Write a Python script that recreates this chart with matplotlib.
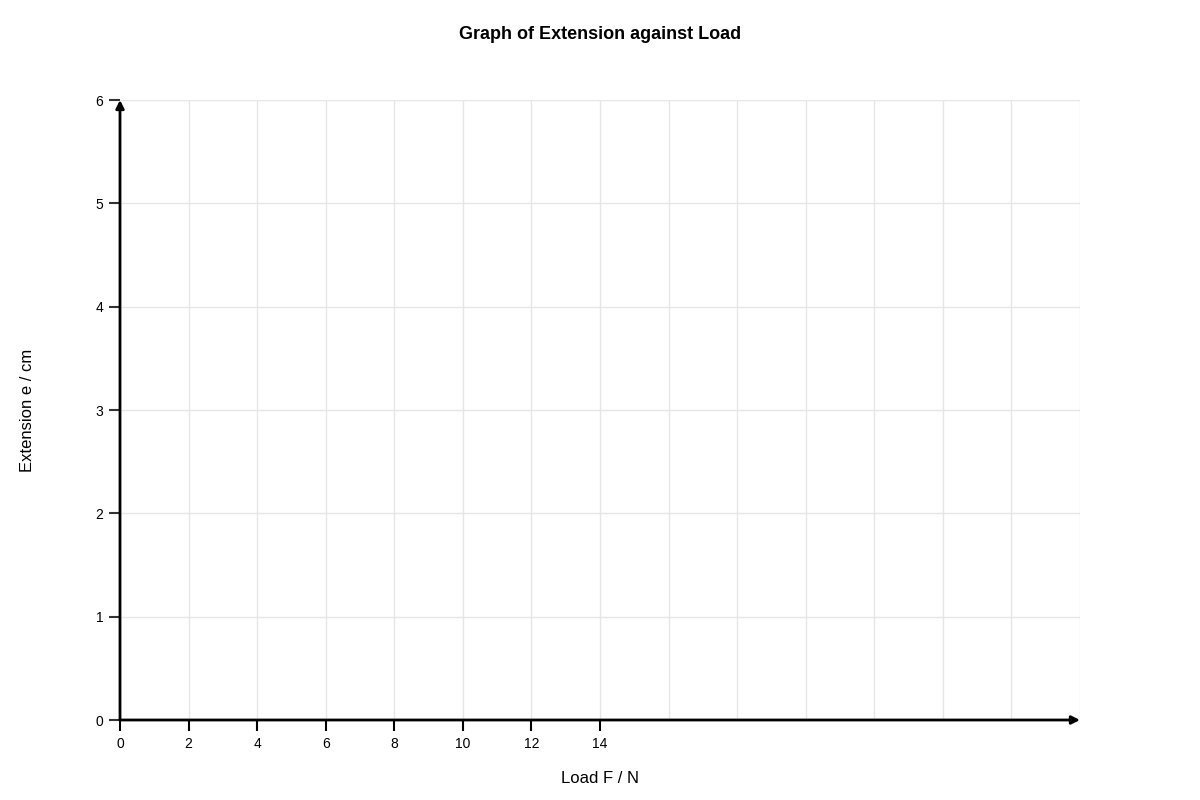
import matplotlib
matplotlib.use('Agg')
import matplotlib.pyplot as plt

plt.rcParams['font.family'] = ['Liberation Sans', 'DejaVu Sans']

# axis ranges and ticks
x_grid = list(range(0, 30, 2))
x_ticks = [0, 2, 4, 6, 8, 10, 12, 14]
y_ticks = [0, 1, 2, 3, 4, 5, 6]
x_max = 28
y_max = 6

fig = plt.figure(figsize=(12, 8), dpi=100)
ax = fig.add_axes([0.1, 0.1, 0.8, 0.775])
ax.set_xlim(0, x_max)
ax.set_ylim(0, y_max)

# grid lines
for gx in x_grid[1:]:
    ax.axvline(gx, color='#e6e6e6', lw=1, zorder=0)
for gy in y_ticks[1:]:
    ax.axhline(gy, color='#e6e6e6', lw=1, zorder=0)

for s in ax.spines.values():
    s.set_visible(False)

# axes with arrows
ax.annotate('', xy=(x_max, 0), xytext=(0, 0),
            arrowprops=dict(arrowstyle='-|>', color='black', lw=2,
                            mutation_scale=12, shrinkA=0, shrinkB=0))
ax.annotate('', xy=(0, y_max), xytext=(0, 0),
            arrowprops=dict(arrowstyle='-|>', color='black', lw=2,
                            mutation_scale=12, shrinkA=0, shrinkB=0))

ax.set_xticks(x_ticks)
ax.set_yticks(y_ticks)
ax.tick_params(axis='x', length=8, width=1.5, color='black', labelsize=10, pad=4)
ax.tick_params(axis='y', length=8, width=1.5, color='#333333', labelsize=10, pad=4)

ax.set_xlabel('Load F / N', fontsize=12, va='center')
ax.xaxis.set_label_coords(0.5, -0.095)
ax.set_ylabel('Extension e / cm', fontsize=12, va='center')
ax.yaxis.set_label_coords(-0.096, 0.5)
fig.suptitle('Graph of Extension against Load', fontsize=13, fontweight='bold', y=0.967)

fig.savefig('out.png', dpi=100)
